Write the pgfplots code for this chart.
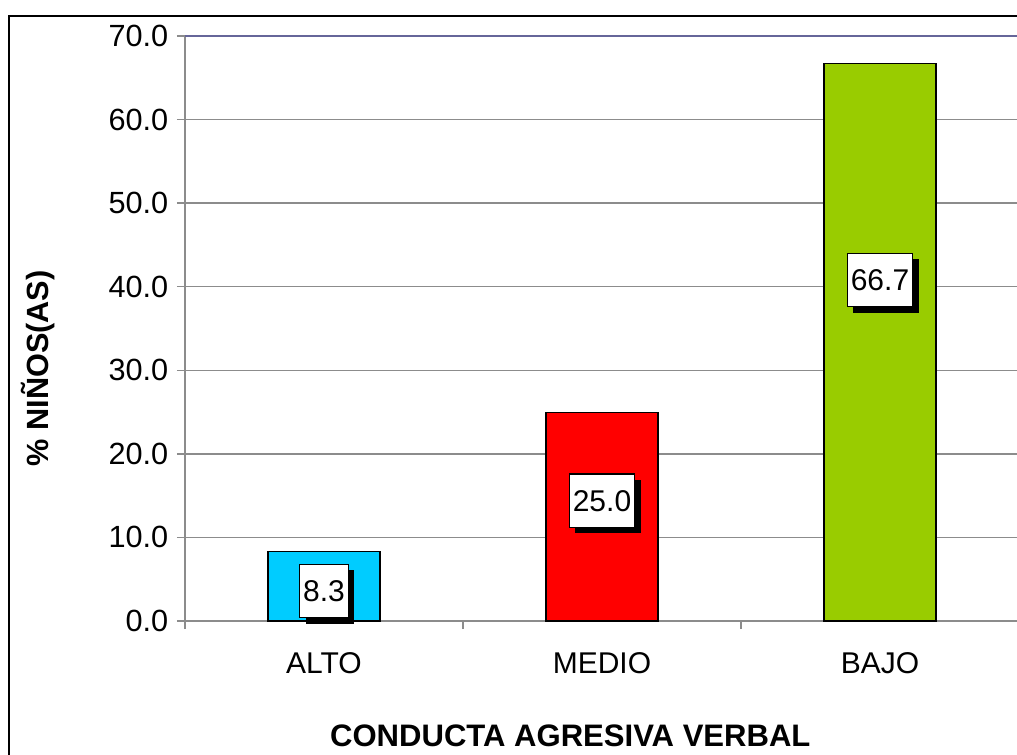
\documentclass[border=0pt]{standalone}
\usepackage{pgfplots}
\pgfplotsset{compat=1.18}
\usepackage{fontspec}
\setmainfont{Liberation Sans}
\usetikzlibrary{shadows}
\definecolor{cbar}{HTML}{00CCFF}
\definecolor{rbar}{HTML}{FF0000}
\definecolor{gbar}{HTML}{99CC00}
\definecolor{gridc}{HTML}{8C8C8C}
\definecolor{topc}{HTML}{666699}
\begin{document}
\begin{tikzpicture}
\useasboundingbox (0,0) rectangle (762.75pt,-565.5pt);
\clip (0,0) rectangle (762.75pt,-565.5pt);
\fill[white] (0,0) rectangle (762.75pt,-565.5pt);
\draw[black, line width=1.5pt] (6.75pt,-12pt) rectangle (800pt,-600pt);
\begin{axis}[
  at={(138.75pt,-465.75pt)}, anchor=south west,
  scale only axis, width=625.5pt, height=438.75pt,
  xmin=-0.5, xmax=2.5, ymin=0, ymax=70,
  axis x line*=bottom, axis y line*=left,
  axis line style={gridc, line width=1pt},
  ytick={0,10,...,70},
  yticklabel style={/pgf/number format/fixed, /pgf/number format/precision=1, /pgf/number format/fixed zerofill, font=\fontsize{23}{25}\selectfont, xshift=-3pt},
  /pgf/number format/assume math mode=true,
  ymajorgrids, grid style={gridc, line width=1pt},
  tick style={gridc, line width=1pt},
  major tick length=6pt,
  tick align=outside,
  xtick={0,1,2}, xticklabels={ALTO,MEDIO,BAJO},
  x tick style={draw=none},
  xticklabel style={font=\fontsize{22.5}{24}\selectfont, yshift=-14pt},
  extra x ticks={-0.5,0.5,1.5,2.5}, extra x tick labels={},
  extra x tick style={grid=none, x tick style={draw=gridc, line width=1pt}},
  xlabel={\bfseries CONDUCTA AGRESIVA VERBAL},
  xlabel style={font=\fontsize{23.3}{25}\selectfont, at={(axis description cs:0.462,-0.197)}, anchor=center},
  ylabel={\bfseries \% NIÑOS(AS)},
  ylabel style={font=\fontsize{23}{25}\selectfont, at={(axis description cs:-0.176,0.432)}, anchor=center, rotate=0},
  clip=false,
]
\addplot[ybar, bar width=84pt, bar shift=0pt, fill=cbar, draw=black, line width=0.8pt] coordinates {(0,8.3)};
\addplot[ybar, bar width=84pt, bar shift=0pt, fill=rbar, draw=black, line width=0.8pt] coordinates {(1,25.0)};
\addplot[ybar, bar width=84pt, bar shift=0pt, fill=gbar, draw=black, line width=0.8pt] coordinates {(2,66.7)};
\draw[topc, line width=1.2pt] (axis cs:-0.5,70) -- (axis cs:2.5,70);
\addplot[draw=none, mark=none, point meta=explicit symbolic,
  nodes near coords,
  every node near coord/.append style={anchor=center, draw=black, line width=0.8pt, fill=white, font=\fontsize{22.5}{24}\selectfont, inner xsep=2.5pt, minimum height=40pt, text depth=0pt,
  drop shadow={shadow xshift=4.5pt, shadow yshift=-4.5pt, opacity=1, fill=black}}]
  coordinates {(0,3.6)[8.3] (1,14.4)[25.0] (2,40.8)[66.7]};
\end{axis}
\end{tikzpicture}
\end{document}
